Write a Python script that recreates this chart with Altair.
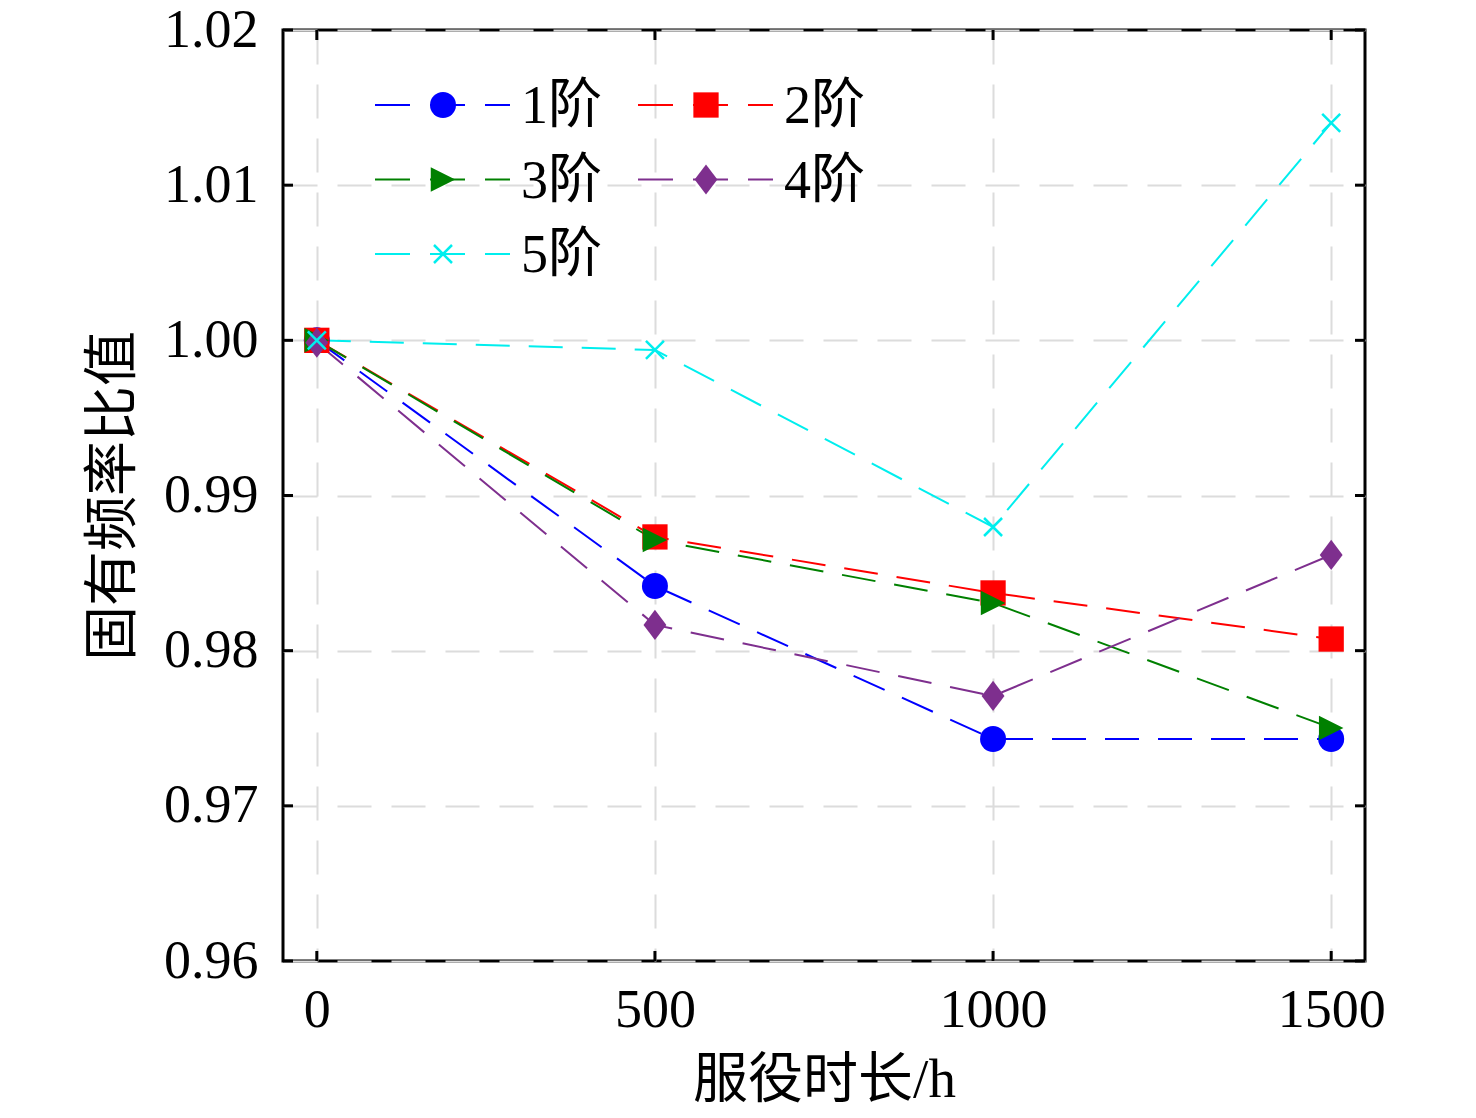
import altair as alt
import pandas as pd

hours = [0, 500, 1000, 1500]
series_names = ["1阶", "2阶", "3阶", "4阶", "5阶"]
ratio_1 = [1.0000, 0.98417, 0.97431, 0.97431]
ratio_2 = [1.0000, 0.98733, 0.98372, 0.98075]
ratio_3 = [1.0000, 0.98713, 0.98307, 0.97502]
ratio_4 = [0.99985, 0.98166, 0.97708, 0.98617]
ratio_5 = [1.0000, 0.99938, 0.98797, 1.01401]
x_ticks = [0, 500, 1000, 1500]
y_ticks = [0.96, 0.97, 0.98, 0.99, 1.00, 1.01, 1.02]

colors = ["#0000ff", "#ff0000", "#008000", "#7e2f8e", "#00eeee"]
shapes = ["circle", "square", "M-1,-1L1,0L-1,1Z", "M0,-1.27L0.96,0L0,1.27L-0.96,0Z",
          "M-1,-1L1,1M-1,1L1,-1"]
sizes = [676, 529, 729, 676, 324]

W, H = 1082, 931
FONT = "Liberation Serif, Times New Roman, Noto Sans CJK SC"

rows = []
for name, vals in zip(series_names, [ratio_1, ratio_2, ratio_3, ratio_4, ratio_5]):
    for h, v in zip(hours, vals):
        rows.append({"series": name, "hours": h, "ratio": v})
df = pd.DataFrame(rows)

xscale = alt.Scale(domain=[-50, 1550], nice=False, zero=False)
yscale = alt.Scale(domain=[0.96, 1.02], nice=False, zero=False)
color_scale = alt.Scale(domain=series_names, range=colors)
shape_scale = alt.Scale(domain=series_names, range=shapes)
size_scale = alt.Scale(domain=series_names, range=sizes)

xaxis = alt.Axis(values=x_ticks, format="d", title="服役时长/h", grid=True,
                 gridDash=[34, 20], gridColor="#dcdcdc", gridWidth=2,
                 ticks=False, tickSize=0, domain=False, labelPadding=22,
                 labelFontSize=54, labelFont=FONT, labelColor="black",
                 titleFontSize=55, titleFont=FONT, titleFontWeight="normal",
                 titleColor="black", titlePadding=16)
yaxis = alt.Axis(values=y_ticks, format=".2f", title="固有频率比值", grid=True,
                 gridDash=[34, 20], gridColor="#dcdcdc", gridWidth=2,
                 ticks=False, tickSize=0, domain=False, labelPadding=25,
                 labelFontSize=54, labelFont=FONT, labelColor="black",
                 titleFontSize=55, titleFont=FONT, titleFontWeight="normal",
                 titleColor="black", titlePadding=22)

base = alt.Chart(df)
lines = base.mark_line(strokeWidth=2, strokeDash=[34, 19]).encode(
    x=alt.X("hours:Q", scale=xscale, axis=xaxis),
    y=alt.Y("ratio:Q", scale=yscale, axis=yaxis),
    color=alt.Color("series:N", scale=color_scale, legend=None),
    detail="series:N",
)
pts_filled = base.transform_filter(alt.datum.series != "5阶").mark_point(
    filled=True, opacity=1, strokeWidth=0).encode(
    x=alt.X("hours:Q", scale=xscale),
    y=alt.Y("ratio:Q", scale=yscale),
    color=alt.Color("series:N", scale=color_scale, legend=None),
    shape=alt.Shape("series:N", scale=shape_scale, legend=None),
    size=alt.Size("series:N", scale=size_scale, legend=None),
)
pts_x = base.transform_filter(alt.datum.series == "5阶").mark_point(
    filled=False, opacity=1, strokeWidth=2.5, shape=shapes[4], size=sizes[4],
    color=colors[4]).encode(
    x=alt.X("hours:Q", scale=xscale),
    y=alt.Y("ratio:Q", scale=yscale),
)

# inward ticks on all four sides
xt = pd.DataFrame({"v": x_ticks})
yt = pd.DataFrame({"v": y_ticks})
tk = dict(color="black", strokeWidth=3)
tick_b = alt.Chart(xt).mark_rule(**tk).encode(
    x=alt.X("v:Q", scale=xscale), y=alt.value(H), y2=alt.value(H - 10))
tick_t = alt.Chart(xt).mark_rule(**tk).encode(
    x=alt.X("v:Q", scale=xscale), y=alt.value(0), y2=alt.value(10))
tick_l = alt.Chart(yt).mark_rule(**tk).encode(
    y=alt.Y("v:Q", scale=yscale), x=alt.value(0), x2=alt.value(10))
tick_r = alt.Chart(yt).mark_rule(**tk).encode(
    y=alt.Y("v:Q", scale=yscale), x=alt.value(W), x2=alt.value(W - 10))

# manual legend (2 columns, 3 rows)
leg_rows = []
for i, name in enumerate(series_names):
    col, row = i % 2, i // 2
    lx = 92 + col * 263
    ly = 75 + row * 74.5
    leg_rows.append({"series": name, "lx": lx, "lx2": lx + 135, "mx": lx + 68,
                     "tx": lx + 146, "ly": ly})
leg = pd.DataFrame(leg_rows)
lbase = alt.Chart(leg)
leg_lines = lbase.mark_rule(strokeWidth=2, strokeDash=[35, 20]).encode(
    x=alt.X("lx:Q", scale=None), x2="lx2:Q", y=alt.Y("ly:Q", scale=None),
    color=alt.Color("series:N", scale=color_scale, legend=None))
leg_pts = lbase.transform_filter(alt.datum.series != "5阶").mark_point(
    filled=True, opacity=1, strokeWidth=0).encode(
    x=alt.X("mx:Q", scale=None), y=alt.Y("ly:Q", scale=None),
    color=alt.Color("series:N", scale=color_scale, legend=None),
    shape=alt.Shape("series:N", scale=shape_scale, legend=None),
    size=alt.Size("series:N", scale=size_scale, legend=None))
leg_x = lbase.transform_filter(alt.datum.series == "5阶").mark_point(
    filled=False, opacity=1, strokeWidth=2.5, shape=shapes[4], size=sizes[4],
    color=colors[4]).encode(
    x=alt.X("mx:Q", scale=None), y=alt.Y("ly:Q", scale=None))
leg_text = lbase.mark_text(align="left", baseline="middle", fontSize=54,
                           font=FONT, color="black", dy=2).encode(
    x=alt.X("tx:Q", scale=None), y=alt.Y("ly:Q", scale=None), text="series:N")

chart = alt.layer(
    lines, pts_filled, pts_x, tick_b, tick_t, tick_l, tick_r,
    leg_lines, leg_pts, leg_x, leg_text,
).properties(
    width=W, height=H,
    autosize=alt.AutoSizeParams(type="none"),
    padding={"left": 275, "top": 22, "right": 100, "bottom": 150},
    background="white",
).configure_view(stroke="black", strokeWidth=3)

chart.save("out.html", embed_options={"renderer": "svg", "actions": False})
